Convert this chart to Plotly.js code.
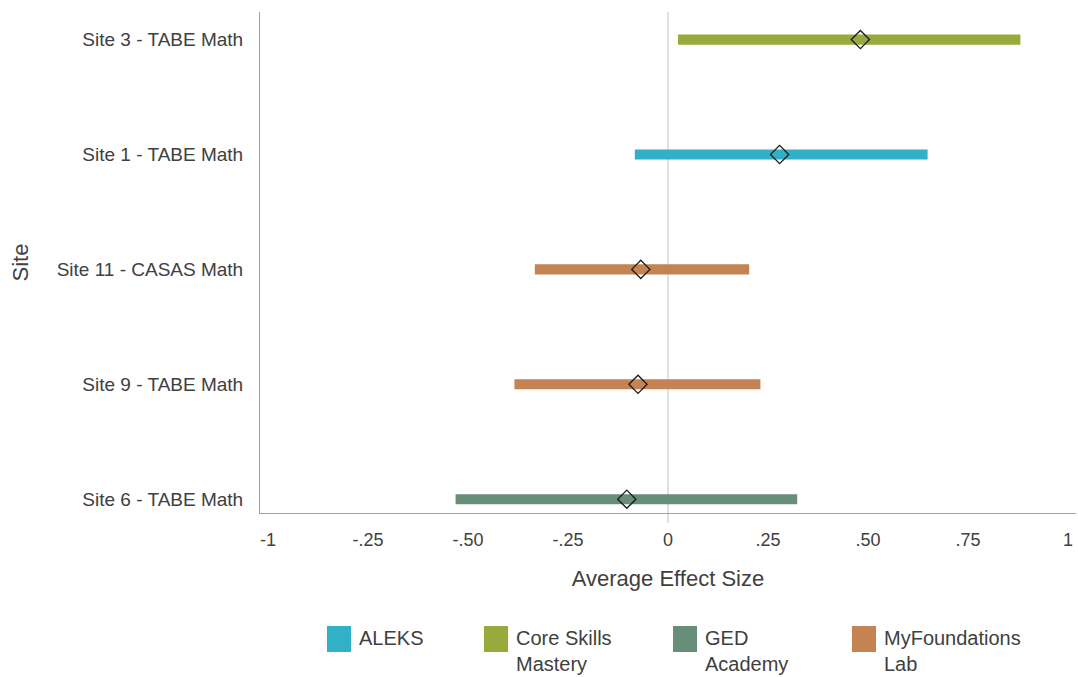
<!DOCTYPE html>
<html>
<head>
<meta charset="utf-8">
<script src="https://cdn.plot.ly/plotly-3.0.1.min.js"></script>
<style>html,body{margin:0;padding:0;background:#fff;}#chart{width:1078px;height:677px;}</style>
</head>
<body>
<div id="chart"></div>
<script>
// Data (top to bottom as shown)
const sites = ['Site 3 - TABE Math','Site 1 - TABE Math','Site 11 - CASAS Math','Site 9 - TABE Math','Site 6 - TABE Math'];
const sitePrograms = ['Core Skills Mastery','ALEKS','MyFoundations Lab','MyFoundations Lab','GED Academy'];
const lowerBound = [0.025, -0.083, -0.333, -0.384, -0.531];
const upperBound = [0.881, 0.649, 0.203, 0.231, 0.323];
const effectSize = [0.481, 0.279, -0.068, -0.075, -0.103];

const programNames = ['ALEKS','Core Skills Mastery','GED Academy','MyFoundations Lab'];
const programLabels = ['ALEKS','Core Skills<br>Mastery','GED<br>Academy','MyFoundations<br>Lab'];
const programColors = ['#31B0C8','#97AA3C','#668E79','#C38352'];

const xTickVals = [-1,-0.75,-0.5,-0.25,0,0.25,0.5,0.75,1];
const xTickText = ['-1','-.25','-.50','-.25','0','.25','.50','.75','1'];

const textColor = '#404040';
const font = 'Liberation Sans, Arial, sans-serif';

const traces = [];
programNames.forEach((p, pi) => {
  const idx = sitePrograms.map((sp,i)=> sp===p ? i : -1).filter(i=>i>=0);
  traces.push({
    type:'bar', orientation:'h', name:p, showlegend:false,
    y: idx.map(i=>sites[i]),
    base: idx.map(i=>lowerBound[i]),
    x: idx.map(i=>upperBound[i]-lowerBound[i]),
    width: 0.088,
    marker:{color:programColors[pi], line:{width:0}},
    hoverinfo:'skip'
  });
});
traces.push({
  type:'scatter', mode:'markers', showlegend:false,
  x: effectSize, y: sites,
  marker:{symbol:'diamond', size:14, color:'rgba(0,0,0,0)', line:{color:'#1a1a1a', width:1.3}}
});

// custom legend
const shapes = [{
  type:'line', xref:'x', yref:'paper', x0:0, x1:0, y0:-0.02, y1:1,
  line:{color:'#d4d4d4', width:1.5}, layer:'below'
}];
const annotations = [{
  xref:'paper', yref:'paper', x:(20-260)/816, y:0.5, xanchor:'center', yanchor:'middle',
  textangle:-90, showarrow:false, text:'Site', font:{family:font, size:22, color:textColor}
}];
const legendX = [327, 484, 673, 852];
programNames.forEach((p, pi) => {
  const x0 = legendX[pi];
  shapes.push({type:'rect', xref:'paper', yref:'paper',
    x0:(x0-260)/816, x1:(x0+24-260)/816,
    y0:(513-652)/501, y1:(513-626)/501,
    fillcolor:programColors[pi], line:{width:0}});
  annotations.push({xref:'paper', yref:'paper', x:(x0+30-260)/816, y:(513-625)/501,
    xanchor:'left', yanchor:'top', align:'left', showarrow:false,
    text:programLabels[pi], font:{family:font, size:20, color:textColor}});
});

const layout = {
  width:1078, height:677,
  margin:{l:260, r:2, t:12, b:164},
  paper_bgcolor:'#fff', plot_bgcolor:'#fff',
  barmode:'overlay',
  showlegend:false,
  font:{family:font, color:textColor},
  xaxis:{
    range:[-1.02,1.02], tickvals:xTickVals, ticktext:xTickText,
    showgrid:false, zeroline:false, showline:true, linecolor:'#a0a0a0', linewidth:1,
    ticks:'outside', ticklen:10, tickcolor:'rgba(0,0,0,0)',
    tickfont:{family:font, size:18, color:textColor},
    title:{text:'Average Effect Size', font:{family:font, size:22, color:textColor}, standoff:22},
    fixedrange:true
  },
  yaxis:{
    type:'category', categoryorder:'array', categoryarray:sites.slice().reverse(),
    range:[-0.12,4.24],
    showgrid:false, zeroline:false, showline:true, linecolor:'#a0a0a0', linewidth:1,
    ticks:'outside', ticklen:12, tickcolor:'rgba(0,0,0,0)',
    tickfont:{family:font, size:19, color:textColor},
    fixedrange:true
  },
  shapes:shapes,
  annotations:annotations
};

Plotly.newPlot('chart', traces, layout, {displayModeBar:false, staticPlot:true});
</script>
</body>
</html>
